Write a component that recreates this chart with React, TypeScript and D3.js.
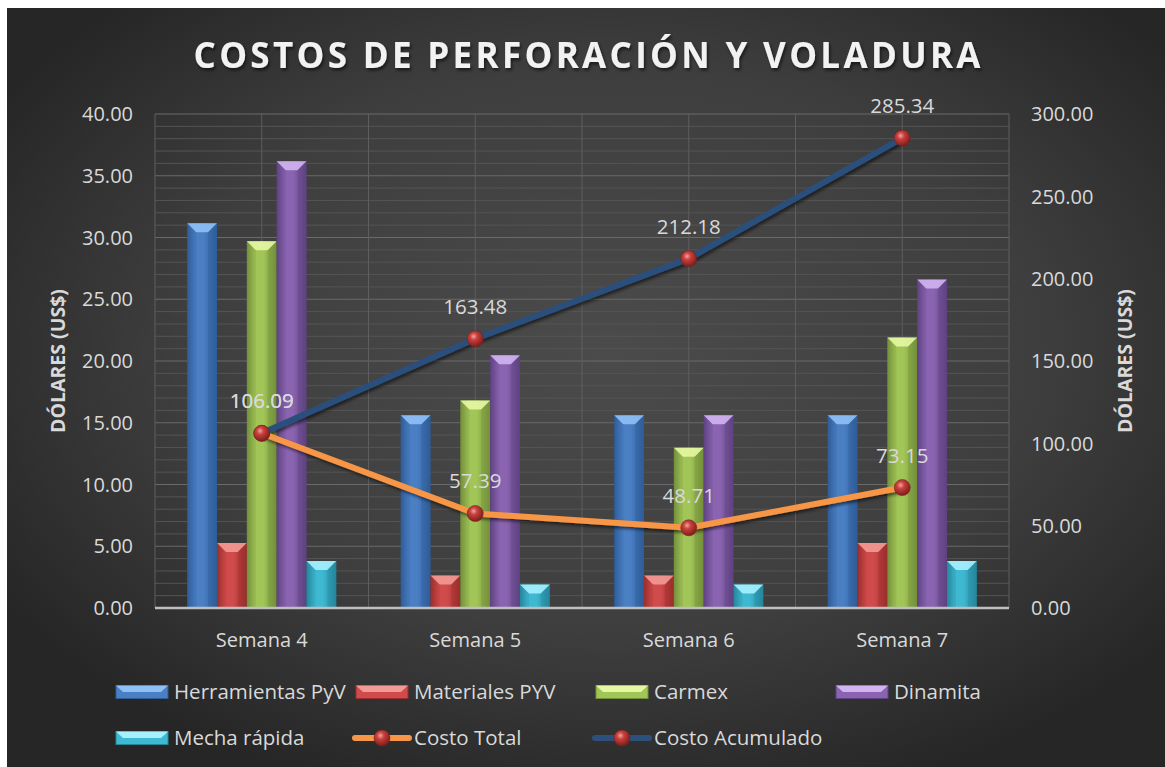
import React from 'react';
import * as d3 from 'd3';

const W = 1165;
const H = 767;
const plot = { left: 155, right: 1009, top: 114, bottom: 608 };
const font = '"Open Sans", sans-serif';
const txt = '#d9d9d9';

// data
const categories = ['Semana 4', 'Semana 5', 'Semana 6', 'Semana 7'];
const herramientas = [31.15, 15.6, 15.6, 15.6];
const materiales = [5.26, 2.63, 2.63, 5.26];
const carmex = [29.7, 16.8, 12.98, 21.9];
const dinamita = [36.18, 20.46, 15.6, 26.59];
const mecha = [3.8, 1.9, 1.9, 3.8];
const costoTotal = [106.09, 57.39, 48.71, 73.15];
const costoAcumulado = [106.09, 163.48, 212.18, 285.34];
const leftTicks = [0, 5, 10, 15, 20, 25, 30, 35, 40];
const rightTicks = [0, 50, 100, 150, 200, 250, 300];

const barSeries = [
  { id: 'her', name: 'Herramientas PyV', values: herramientas, base: '#4a7fc4', light: '#8fc0f5', dark: '#2f5d99' },
  { id: 'mat', name: 'Materiales PYV', values: materiales, base: '#d04b4b', light: '#f29a96', dark: '#9a2e2c' },
  { id: 'car', name: 'Carmex', values: carmex, base: '#a2c557', light: '#e4f7a2', dark: '#73903a' },
  { id: 'din', name: 'Dinamita', values: dinamita, base: '#8a64b0', light: '#d2b4f2', dark: '#5f4282' },
  { id: 'mec', name: 'Mecha rápida', values: mecha, base: '#3fb8d2', light: '#a5f1ff', dark: '#24869c' },
];

const lineSeries = [
  { name: 'Costo Total', values: costoTotal, color: '#f79646' },
  { name: 'Costo Acumulado', values: costoAcumulado, color: '#2c4f7c' },
];

const x0 = d3.scaleBand<string>().domain(categories).range([plot.left, plot.right]).padding(0);
const x1 = d3.scaleBand<string>().domain(barSeries.map(s => s.id))
  .range([0, x0.bandwidth()]).paddingInner(0).paddingOuter(1.08);
const yL = d3.scaleLinear().domain([0, 40]).range([plot.bottom, plot.top]);
const yR = d3.scaleLinear().domain([0, 300]).range([plot.bottom, plot.top]);
const cx = (c: string) => (x0(c) as number) + x0.bandwidth() / 2;

const line = d3.line<number>()
  .x((_, i) => cx(categories[i]))
  .y(d => yR(d));

function Bar({ x, y, w, h, s }: any) {
  const b = Math.min(9, w / 3, h / 2);
  return (
    <g>
      <rect x={x} y={y} width={w} height={h} fill={`url(#grad-${s.id})`} />
      <polygon points={`${x},${y} ${x + w},${y} ${x + w - b},${y + b} ${x + b},${y + b}`} fill={s.light} opacity={0.9} />
      <polygon points={`${x},${y} ${x + b},${y + b} ${x + b},${y + h} ${x},${y + h}`} fill={s.dark} opacity={0.25} />
      <polygon points={`${x + w},${y} ${x + w - b},${y + b} ${x + w - b},${y + h} ${x + w},${y + h}`} fill={s.dark} opacity={0.35} />
    </g>
  );
}

function Marker({ x, y }: { x: number; y: number }) {
  return <circle cx={x} cy={y} r={8} fill="url(#sphere)" stroke="#7a2020" strokeWidth={0.6} />;
}

export default function App() {
  const minor = d3.range(0, 41, 1);
  const vlines = d3.range(0, categories.length * 2 + 1).map(i => plot.left + (i * x0.bandwidth()) / 2);
  const legendCols = [116, 356, 596, 836];
  const legendRows = [692, 738];
  const legendItems = [
    ...barSeries.map(s => ({ kind: 'bar', s })),
    ...lineSeries.map(s => ({ kind: 'line', s })),
  ];

  return (
    <div style={{ position: 'fixed', left: 0, top: 0, width: W, height: H }}>
      <svg width={W} height={H} style={{ display: 'block' }}>
        <defs>
          <radialGradient id="bg" cx="0.52" cy="0.45" r="0.62">
            <stop offset="0" stopColor="#4b4b4b" />
            <stop offset="0.6" stopColor="#3e3e3e" />
            <stop offset="1" stopColor="#262626" />
          </radialGradient>
          {barSeries.map(s => (
            <linearGradient key={s.id} id={`grad-${s.id}`} x1="0" x2="1" y1="0" y2="0">
              <stop offset="0" stopColor={s.dark} />
              <stop offset="0.25" stopColor={s.base} />
              <stop offset="0.55" stopColor={s.base} />
              <stop offset="1" stopColor={s.dark} />
            </linearGradient>
          ))}
          <radialGradient id="sphere" cx="0.4" cy="0.35" r="0.65">
            <stop offset="0" stopColor="#f2a3a0" />
            <stop offset="0.35" stopColor="#c9403c" />
            <stop offset="1" stopColor="#7d1e1c" />
          </radialGradient>
          <filter id="shadow" x="-10%" y="-10%" width="120%" height="140%">
            <feDropShadow dx="1.5" dy="2.5" stdDeviation="1.8" floodColor="#000" floodOpacity="0.55" />
          </filter>
        </defs>

        <rect x={0} y={0} width={W} height={H} fill="#ffffff" />
        <rect x={7} y={8} width={W - 7} height={H - 8} fill="url(#bg)" />

        {/* title */}
        <text x={587} y={68} textAnchor="middle" fontFamily={font} fontWeight={700} fontSize={35}
          fill="#f2f2f2" textLength={787} lengthAdjust="spacing" filter="url(#shadow)">
          COSTOS DE PERFORACIÓN Y VOLADURA
        </text>

        {/* gridlines */}
        {minor.map(v => (
          <line key={'m' + v} x1={plot.left} x2={plot.right} y1={yL(v)} y2={yL(v)}
            stroke={v % 5 === 0 ? '#6a6a6a' : '#545454'} strokeWidth={1} />
        ))}
        {vlines.map((x, i) => (
          <line key={'v' + i} x1={x} x2={x} y1={plot.top} y2={plot.bottom} stroke="#5e5e5e" strokeWidth={1} />
        ))}

        {/* bars */}
        {categories.map((c, ci) => (
          <g key={c}>
            {barSeries.map(s => {
              const x = (x0(c) as number) + (x1(s.id) as number);
              const y = yL(s.values[ci]);
              return <Bar key={s.id} x={x} y={y} w={x1.bandwidth()} h={plot.bottom - y} s={s} />;
            })}
          </g>
        ))}

        {/* x axis line */}
        <line x1={plot.left} x2={plot.right} y1={plot.bottom} y2={plot.bottom} stroke="#bfbfbf" strokeWidth={2.5} />

        {/* lines */}
        {lineSeries.slice().reverse().map(s => (
          <g key={s.name}>
            <path d={line(s.values) as string} fill="none" stroke={s.color} strokeWidth={6}
              strokeLinejoin="round" filter="url(#shadow)" />
          </g>
        ))}
        {lineSeries.map(s => s.values.map((v, i) => (
          <Marker key={s.name + i} x={cx(categories[i])} y={yR(v)} />
        )))}
        {lineSeries.map(s => s.values.map((v, i) => (
          <text key={'l' + s.name + i} x={cx(categories[i])} y={yR(v) - 25} textAnchor="middle"
            fontFamily={font} fontSize={20.5} fill={txt}>{v.toFixed(2)}</text>
        )))}

        {/* axes labels */}
        {leftTicks.map(t => (
          <text key={'lt' + t} x={133} y={yL(t)} dy="0.36em" textAnchor="end" fontFamily={font}
            fontSize={20} fill={txt}>{t.toFixed(2)}</text>
        ))}
        {rightTicks.map(t => (
          <text key={'rt' + t} x={1031} y={yR(t)} dy="0.36em" textAnchor="start" fontFamily={font}
            fontSize={20} fill={txt}>{t.toFixed(2)}</text>
        ))}
        {categories.map(c => (
          <text key={'c' + c} x={cx(c)} y={647} textAnchor="middle" fontFamily={font} fontSize={20}
            fill={txt}>{c}</text>
        ))}
        <text transform="translate(65,361) rotate(-90)" textAnchor="middle" fontFamily={font}
          fontWeight={700} fontSize={19.5} fill={txt}>DÓLARES (US$)</text>
        <text transform="translate(1132,361) rotate(-90)" textAnchor="middle" fontFamily={font}
          fontWeight={700} fontSize={19.5} fill={txt}>DÓLARES (US$)</text>

        {/* legend */}
        {legendItems.map((it: any, i) => {
          const lx = legendCols[i % 4];
          const ly = legendRows[Math.floor(i / 4)];
          const s = it.s;
          return (
            <g key={'lg' + i}>
              {it.kind === 'bar' ? (
                <g>
                  <rect x={lx} y={ly - 6.5} width={52} height={13} fill={s.base} stroke={s.dark} strokeWidth={1} />
                  <polygon points={`${lx},${ly - 6.5} ${lx + 52},${ly - 6.5} ${lx + 45},${ly} ${lx + 7},${ly}`} fill={s.light} />
                </g>
              ) : (
                <g>
                  <line x1={lx - 1} x2={lx + 53} y1={ly} y2={ly} stroke={s.color} strokeWidth={6} strokeLinecap="round" />
                  <Marker x={lx + 26} y={ly} />
                </g>
              )}
              <text x={lx + 58} y={ly} dy="0.36em" fontFamily={font} fontSize={20.5} fill={txt}>{s.name}</text>
            </g>
          );
        })}
      </svg>
    </div>
  );
}
